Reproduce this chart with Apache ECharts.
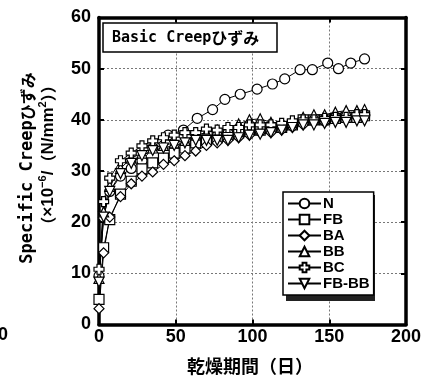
<!DOCTYPE html>
<html>
<head>
<meta charset="utf-8">
<script src="https://cdn.jsdelivr.net/npm/echarts@6/dist/echarts.min.js"></script>
<style>
html,body{margin:0;padding:0;background:#fff;}
#c{width:430px;height:381px;}
</style>
</head>
<body>
<div id="c"></div>
<script>
// ---- data ----
const xTicks = [0, 50, 100, 150, 200];
const yTicks = [0, 10, 20, 30, 40, 50, 60];
const seriesNames = ['N', 'FB', 'BA', 'BB', 'BC', 'FB-BB'];

const daysN = [0, 3, 7, 14, 21, 28, 35, 45, 55, 64, 74, 82, 92, 103, 113, 121, 131, 139, 149, 156, 164, 173];
const valN  = [9.5, 21, 26, 29, 30.5, 32, 34.5, 37, 38, 40.3, 42, 44, 45, 46, 47, 48, 49.8, 49.8, 51.1, 50, 51.1, 51.9];

const days = [0, 3, 7, 14, 21, 28, 35, 42, 49, 56, 63, 70, 77, 84, 91, 98, 105, 112, 119, 126, 133, 140, 147, 154, 161, 168, 173];
const valFB   = [4.9, 15, 20.5, 25.5, 28, 30.4, 31.6, 32.5, 33.5, 34.5, 35.5, 36, 36.5, 37, 37.5, 38, 38, 38.5, 38.5, 39, 40, 40, 40, 40.3, 40.5, 40.5, 40.8];
const valBA   = [3.1, 14, 21, 25, 27.5, 29, 29.8, 31.3, 32, 33, 33.9, 35, 35.5, 36, 36.5, 37, 37.5, 37.5, 38, 38.5, 39, 39.5, 39.5, 40, 40.5, 40.5, 41];
const valBB   = [9, 22, 27, 30.5, 32.5, 33.5, 34.5, 35, 35.5, 36, 37, 37.5, 38, 38.5, 39.2, 40, 40.2, 39.5, 39, 39.5, 40.5, 41, 41, 41.5, 41.8, 41.8, 42];
const valBC   = [10.8, 24, 28.6, 32, 33.5, 34.9, 35.9, 36.5, 37, 37.5, 37.5, 38.2, 38, 38.5, 38.5, 39, 39, 39, 39.3, 39.8, 40, 40, 40.3, 40.5, 40.5, 41, 41];
const valFBBB = [8.3, 21, 26, 29.5, 31.5, 33, 34, 34.5, 35, 35.5, 36, 36, 36, 36, 36.5, 37, 37.2, 37.5, 38, 38.5, 39, 39, 39.3, 39.5, 39.5, 39.8, 39.8];

// ---- chart ----
const plusPath = 'path://M3,0L7,0L7,3L10,3L10,7L7,7L7,10L3,10L3,7L0,7L0,3L3,3Z';
function pairs(xs, ys){ return xs.map((x,i)=>[x, ys[i]]); }
function mk(name, xs, ys, symbol, rot){
  return {
    name: name, type: 'line', data: pairs(xs, ys),
    symbol: symbol, symbolSize: 10, symbolRotate: rot || 0,
    showAllSymbol: true,
    lineStyle: {color: '#000', width: 1},
    itemStyle: {color: '#fff', borderColor: '#000', borderWidth: 1.2},
    emphasis: {disabled: true},
    animation: false
  };
}
const tickFont = {fontFamily: 'Liberation Sans', fontWeight: 'bold', fontSize: 18, color: '#000'};
const chart = echarts.init(document.getElementById('c'), null, {renderer: 'canvas'});
chart.setOption({
  animation: false,
  backgroundColor: '#fff',
  grid: {left: 99, right: 24, top: 17.5, bottom: 56.5, containLabel: false},
  xAxis: [
    {type: 'value', position: 'bottom', min: xTicks[0], max: xTicks[xTicks.length-1], interval: 50,
     axisLine: {show: true, onZero: false, lineStyle: {color: '#000', width: 3.5}},
     axisTick: {show: true, inside: true, length: 5, lineStyle: {color: '#000', width: 2}},
     axisLabel: Object.assign({margin: 4}, tickFont),
     splitLine: {show: true, lineStyle: {color: '#777', width: 1, type: [2, 2]}}},
    {type: 'value', position: 'top', min: xTicks[0], max: xTicks[xTicks.length-1], interval: 50,
     axisLine: {show: true, onZero: false, lineStyle: {color: '#000', width: 3.5}},
     axisTick: {show: true, inside: true, length: 5, lineStyle: {color: '#000', width: 2}},
     axisLabel: {show: false}, splitLine: {show: false}}
  ],
  yAxis: [
    {type: 'value', position: 'left', min: yTicks[0], max: yTicks[yTicks.length-1], interval: 10,
     axisLine: {show: true, onZero: false, lineStyle: {color: '#000', width: 3.5}},
     axisTick: {show: true, inside: true, length: 5, lineStyle: {color: '#000', width: 2}},
     axisLabel: Object.assign({margin: 8}, tickFont),
     splitLine: {show: true, lineStyle: {color: '#777', width: 1, type: [2, 2]}}},
    {type: 'value', position: 'right', min: yTicks[0], max: yTicks[yTicks.length-1], interval: 10,
     axisLine: {show: true, onZero: false, lineStyle: {color: '#000', width: 3.5}},
     axisTick: {show: true, inside: true, length: 5, lineStyle: {color: '#000', width: 2}},
     axisLabel: {show: false}, splitLine: {show: false}}
  ],
  legend: {
    orient: 'vertical', left: 283, top: 192, z: 6,
    data: seriesNames,
    itemWidth: 33, itemHeight: 12, itemGap: 1,
    padding: [4, 4, 4, 4],
    backgroundColor: '#fff', borderColor: '#000', borderWidth: 1.5,
    textStyle: {fontFamily: 'Liberation Sans', fontWeight: 'bold', fontSize: 15, lineHeight: 13, color: '#000', padding: [0, 0, 0, -3]},
    selectedMode: false
  },
  graphic: [
    {type: 'rect', z: 5, shape: {x: 286, y: 195, width: 89, height: 106}, style: {fill: '#222'}},
    {type: 'rect', z: 5, shape: {x: 103, y: 23, width: 174, height: 29}, style: {fill: '#fff', stroke: '#000', lineWidth: 1.5}},
    {type: 'text', z: 6, x: 112, y: 38, style: {
      text: '{a|Basic Creep}{b|ひずみ}', textVerticalAlign: 'middle', textAlign: 'left',
      rich: {a: {fontFamily: 'DejaVu Sans Mono', fontWeight: 'bold', fontSize: 15, fill: '#000'},
             b: {fontFamily: 'Noto Sans CJK JP', fontWeight: 'bold', fontSize: 16, fill: '#000'}}}},
    {type: 'text', z: 6, x: 28, y: 168, rotation: Math.PI/2, style: {
      text: '{a|Specific Creep}{b|ひずみ}', textVerticalAlign: 'middle', textAlign: 'center',
      rich: {a: {fontFamily: 'DejaVu Sans Mono', fontWeight: 'bold', fontSize: 17, fill: '#000'},
             b: {fontFamily: 'Noto Sans CJK JP', fontWeight: 'bold', fontSize: 16, fill: '#000'}}}},
    {type: 'text', z: 6, x: 48, y: 155, rotation: Math.PI/2, style: {
      text: '{b|（}{a|×10}{s|−6}{a|/}{b|（}{a|N/mm}{s|2}{b|））}', textVerticalAlign: 'middle', textAlign: 'center',
      rich: {a: {fontFamily: 'Liberation Sans', fontWeight: 'bold', fontSize: 17, fill: '#000', lineHeight: 22},
             b: {fontFamily: 'Noto Sans CJK JP', fontWeight: 'bold', fontSize: 16, fill: '#000', lineHeight: 22},
             s: {fontFamily: 'Liberation Sans', fontWeight: 'bold', fontSize: 11, fill: '#000', verticalAlign: 'top', lineHeight: 22}}}},
    {type: 'text', z: 6, x: 250, y: 366, style: {
      text: '乾燥期間（日）', textVerticalAlign: 'middle', textAlign: 'center',
      fontFamily: 'Noto Sans CJK JP', fontWeight: 'bold', fontSize: 18, fill: '#000'}},
    {type: 'text', z: 6, x: 8, y: 335, style: {
      text: '200', textVerticalAlign: 'middle', textAlign: 'right',
      fontFamily: 'Liberation Sans', fontWeight: 'bold', fontSize: 18, fill: '#000'}}
  ],
  series: [
    mk('N', daysN, valN, 'circle'),
    mk('FB', days, valFB, 'rect'),
    mk('BA', days, valBA, 'diamond'),
    mk('BB', days, valBB, 'triangle'),
    mk('BC', days, valBC, plusPath),
    mk('FB-BB', days, valFBBB, 'triangle', 180)
  ]
});
</script>
</body>
</html>
